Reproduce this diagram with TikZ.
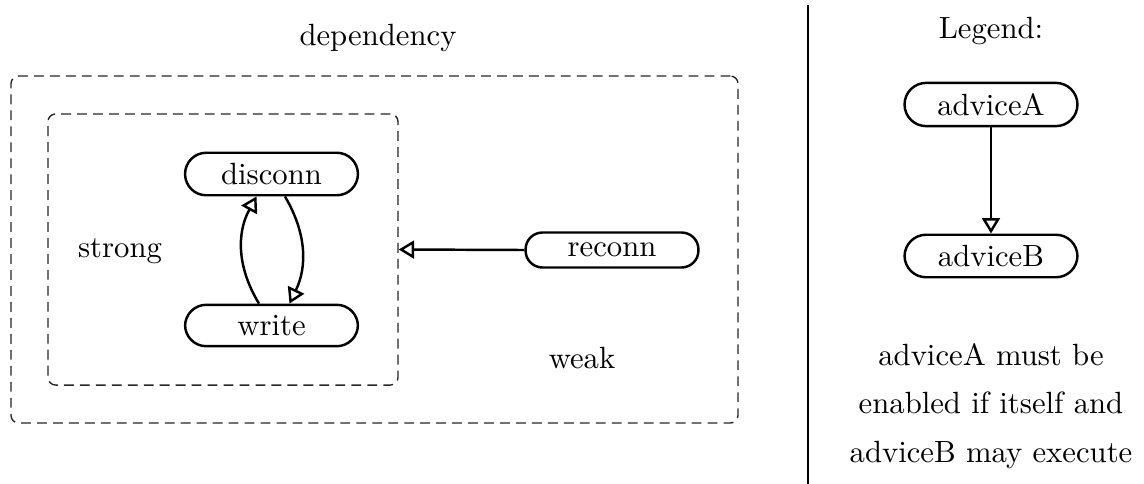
\documentclass[tikz,border=0pt]{standalone}
\usetikzlibrary{arrows.meta,calc}
\begin{document}
\begin{tikzpicture}[x=0.3257pt,y=-0.3257pt,
  advnode/.style={rectangle, draw, line width=0.8pt, minimum width=56.3pt, inner ysep=3.4pt, rounded corners=#1},
  advnode/.default=6.9pt,
  dbox/.style={draw=black!85, line width=0.45pt, dash pattern=on 3.2pt off 2pt, rounded corners=2.5pt, inner sep=0pt},
  arr/.style={line width=0.8pt, -{Triangle[open, length=5pt, width=5.8pt]}},
  lbl/.style={anchor=base, inner sep=0pt}]
\useasboundingbox (0,0) rectangle (1144,484);
% dashed boxes
\node[dbox, minimum width=236.8pt, minimum height=113pt] (weakbox) at (374.5,249.5) {};
\node[dbox, minimum width=114pt, minimum height=88.3pt] (strongbox) at (223,249.5) {};
% labels
\node[lbl] (dep) at (378,45) {dependency};
\node[lbl] (strong) at (120,257) {strong};
\node[lbl] (weak) at (582,368) {weak};
% nodes
\node[advnode] (disconn) at (271.5,174) {disconn};
\node[advnode] (write) at (271.5,325.5) {write};
\node[advnode=5.5pt] (reconn) at (612,250) {reconn};
% edges
\draw[arr] ($(write.north)+(-12.5,0)$) to[bend left=30] ($(disconn.south)+(-15,0)$);
\draw[arr] ($(disconn.south)+(13.5,0)$) to[bend left=28] ($(write.north)+(18,0)$);
\draw[arr] (reconn.west) -- (strongbox.east);
% separator
\coordinate (septop) at (808,5);
\coordinate (sepbot) at (808,484);
\draw[line width=0.8pt] (septop) -- (sepbot);
% legend
\node[lbl] (legend) at (991,38) {Legend:};
\node[advnode=7pt] (adviceA) at (991,104.5) {adviceA};
\node[advnode=7pt] (adviceB) at (991,256) {adviceB};
\draw[arr] (adviceA.south) -- (adviceB.north);
\node[lbl] (l1) at (991,365) {adviceA must be};
\node[lbl] (l2) at (991,413) {enabled if itself and};
\node[lbl] (l3) at (991,462) {adviceB may execute};
\end{tikzpicture}
\end{document}
